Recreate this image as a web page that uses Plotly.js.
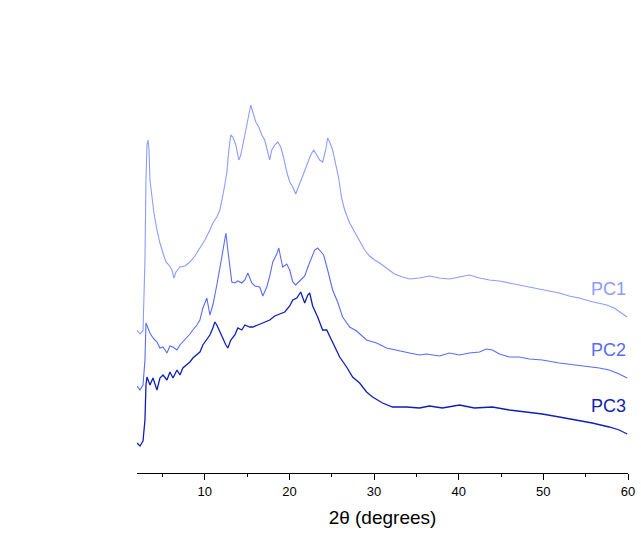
<!DOCTYPE html>
<html>
<head>
<meta charset="utf-8">
<script src="https://cdn.plot.ly/plotly-3.0.1.min.js"></script>
<style>html,body{margin:0;padding:0;background:#fff;}#chart{width:641px;height:542px;}</style>
</head>
<body>
<div id="chart"></div>
<script>
// 2-theta (degrees) and intensity (arbitrary units, offset per curve)
const pc1X = [2.00,2.35,2.71,2.94,3.06,3.18,3.30,3.42,3.53,3.77,4.00,4.36,4.71,5.07,5.42,5.77,6.13,6.36,6.60,7.07,7.66,8.25,8.84,9.43,10.02,10.61,10.96,11.43,11.79,12.26,12.61,12.85,13.08,13.32,13.67,14.03,14.26,14.50,14.85,15.21,15.44,15.68,16.03,16.39,16.74,17.09,17.45,17.68,17.92,18.27,18.63,18.98,19.33,19.69,20.04,20.40,20.75,21.10,21.46,21.81,22.17,22.52,22.87,23.23,23.58,23.93,24.29,24.52,24.76,25.11,25.47,25.82,26.17,26.53,27.12,27.71,28.30,28.89,29.48,30.07,30.66,31.48,32.42,33.37,34.19,35.37,36.55,37.73,38.91,40.09,41.27,42.45,43.63,44.81,45.99,47.17,48.34,49.52,50.70,51.88,53.06,54.24,55.42,56.60,57.48,58.37,59.20,59.90];
const pc1Y = [143,139,142,213,293,328,333,323,293,273,260,243,230,220,211,208,203,195,201,206,207,211,217,225,233,243,250,256,263,283,300,323,338,336,328,313,318,328,343,358,368,361,351,346,338,333,321,313,323,328,331,326,315,301,291,286,279,287,295,303,311,318,323,318,313,311,323,335,331,323,310,295,275,263,250,241,231,223,217,213,210,205,199,196,194,195,197,195,194,196,198,195,193,192,190,188,186,184,182,180,177,175,172,170,168,165,160,156];

const pc2X = [2.00,2.35,2.71,2.94,3.06,3.30,3.53,3.89,4.36,4.71,5.07,5.54,5.89,6.25,6.72,7.07,7.42,7.90,8.25,8.60,9.08,9.43,9.78,10.02,10.25,10.61,10.96,11.43,11.79,12.02,12.26,12.50,12.73,12.97,13.20,13.56,13.91,14.38,14.74,15.09,15.56,15.92,16.50,16.86,17.33,17.68,18.04,18.51,18.75,18.98,19.22,19.69,20.04,20.40,20.75,21.22,21.81,22.28,22.64,22.99,23.34,23.70,24.05,24.52,25.11,25.70,26.29,27.12,27.94,29.12,30.30,31.48,32.42,33.37,34.19,35.37,36.20,37.73,38.91,40.09,41.27,42.45,43.27,43.98,44.81,45.99,47.17,48.34,49.88,51.88,53.89,55.42,56.60,57.78,58.96,59.90];
const pc2Y = [87,83,88,113,150,145,140,135,131,125,126,120,127,126,123,128,131,136,139,143,148,153,165,170,175,158,168,188,203,216,228,240,223,203,191,190,192,190,193,200,190,187,186,177,186,197,211,219,225,215,206,209,203,191,188,192,197,208,216,223,225,221,218,203,183,171,156,146,142,133,130,125,123,121,120,118,119,117,120,118,120,121,124,123,119,116,116,114,113,110,108,106,105,103,99,95];

const pc3X = [2.00,2.35,2.71,2.94,3.06,3.18,3.53,3.89,4.36,4.71,5.07,5.54,5.89,6.25,6.72,7.07,7.42,7.90,8.25,8.60,9.08,9.43,9.78,10.25,10.61,10.96,11.20,11.43,11.79,12.14,12.50,12.73,13.08,13.56,13.91,14.38,14.74,15.33,15.68,16.27,17.09,17.68,18.27,18.86,19.45,20.04,20.40,20.87,21.34,21.81,22.17,22.40,22.75,23.34,23.93,24.41,25.11,25.94,26.76,27.47,28.30,29.12,29.83,31.01,32.19,33.84,35.37,36.55,38.08,40.09,41.86,43.98,45.99,48.00,49.88,51.88,53.89,55.77,57.78,58.96,59.90];
const pc3Y = [30,27,32,53,88,96,88,95,83,95,98,93,101,95,103,98,105,108,111,115,118,121,128,133,138,145,151,148,141,135,128,125,133,138,145,143,148,146,146,148,151,153,157,159,161,167,173,175,181,170,178,180,167,156,143,143,130,116,106,96,90,81,76,70,66,66,65,67,65,68,65,66,63,61,59,56,53,50,46,43,39];

const seriesNames = ["PC1","PC2","PC3"];
const seriesColors = ["#8c9cff","#5a6cf5","#0f1fb4"];
const xTickVals = [10,20,30,40,50,60];

const xs = [pc1X, pc2X, pc3X];
const ys = [pc1Y, pc2Y, pc3Y];
const traces = seriesNames.map((n,i)=>({
  x: xs[i], y: ys[i], type:'scatter', mode:'lines', name:n,
  line:{color:seriesColors[i], width: i===2?1.3:1.1}, hoverinfo:'skip'
}));

const labelY = [pc1Y[pc1Y.length-1]+28, pc2Y[pc2Y.length-1]+28, pc3Y[pc3Y.length-1]+28];
const annotations = seriesNames.map((n,i)=>({
  x: 60, y: labelY[i], xref:'x', yref:'y', text:n, showarrow:false,
  xanchor:'right', yanchor:'middle',
  font:{family:'Arial, "Liberation Sans", sans-serif', size:18, color:seriesColors[i]}
}));

const layout = {
  width:641, height:542,
  margin:{l:137, r:13, t:20, b:69},
  paper_bgcolor:'#fff', plot_bgcolor:'#fff',
  showlegend:false,
  font:{family:'Arial, "Liberation Sans", sans-serif', color:'#000'},
  xaxis:{
    range:[2,60], tickvals:xTickVals, ticks:'outside', ticklen:6, tickwidth:1, tickcolor:'#000',
    showline:true, linecolor:'#000', linewidth:1, showgrid:false, zeroline:false,
    tickfont:{size:13, color:'#000'},
    minor:{dtick:5, tick0:0, ticks:'outside', ticklen:3, tickcolor:'#000', showgrid:false},
    title:{text:'2θ (degrees)', font:{size:19, color:'#000'}, standoff:13}
  },
  yaxis:{range:[0,453], visible:false, fixedrange:true},
  annotations: annotations
};
Plotly.newPlot('chart', traces, layout, {staticPlot:true, displayModeBar:false});
</script>
</body>
</html>
